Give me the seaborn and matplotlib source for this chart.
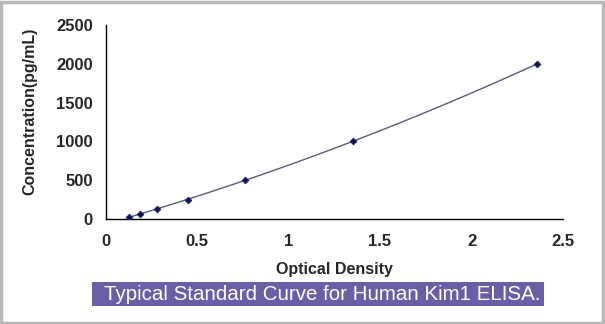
import numpy as np
import pandas as pd
import matplotlib
matplotlib.use("Agg")
import matplotlib.pyplot as plt
import seaborn as sns
from matplotlib.patches import Rectangle

# Data
optical_density = [0.13, 0.19, 0.28, 0.45, 0.76, 1.35, 2.36]
concentration = [31.25, 62.5, 125, 250, 500, 1000, 2000]
x_ticks = [0, 0.5, 1, 1.5, 2, 2.5]
y_ticks = [0, 500, 1000, 1500, 2000, 2500]
x_label = "Optical Density"
y_label = "Concentration(pg/mL)"
caption = "Typical Standard Curve for Human Kim1 ELISA."

df = pd.DataFrame({"od": optical_density, "conc": concentration})

# smooth fitted curve (polynomial fit of the standards)
coef = np.polyfit(df["od"], df["conc"], 2)
xs = np.linspace(min(optical_density), max(optical_density), 200)
fit = pd.DataFrame({"od": xs, "conc": np.polyval(coef, xs)})

sns.set_theme(style="white")
plt.rcParams["font.family"] = ["Liberation Sans", "DejaVu Sans"]

fig = plt.figure(figsize=(6.05, 3.24), dpi=100)
fig.patch.set_facecolor("white")
ax = fig.add_axes([105.5 / 605, 1 - 219 / 324, (563 - 105.5) / 605, (219 - 25) / 324])

sns.lineplot(data=fit, x="od", y="conc", ax=ax, color="#5a5a7e", linewidth=1.0)
sns.scatterplot(data=df, x="od", y="conc", ax=ax, marker="D", s=12,
                color="#14145e", edgecolor="#14145e", linewidth=0.5, zorder=5)

ax.set_xlim(0, 2.5)
ax.set_ylim(0, 2500)
ax.set_xticks(x_ticks)
ax.set_xticklabels([f"{t:g}" for t in x_ticks], fontsize=12, fontweight="bold")
ax.set_yticks(y_ticks)
ax.set_yticklabels([str(t) for t in y_ticks], fontsize=12, fontweight="bold")
ax.tick_params(axis="both", direction="in", length=5, width=1, color="black")
ax.tick_params(axis="y", pad=9)
ax.tick_params(axis="x", pad=11)
for s in ["top", "right"]:
    ax.spines[s].set_visible(False)
for s in ["left", "bottom"]:
    ax.spines[s].set_color("black")
    ax.spines[s].set_linewidth(1.0)
ax.set_xlabel(x_label, fontsize=11.5, fontweight="bold", labelpad=9)
ax.set_ylabel(y_label, fontsize=11.5, fontweight="bold")
ax.yaxis.set_label_coords(-0.148, 0.557)
ax.grid(False)

# caption box
fig.patches.append(Rectangle((92 / 605, 1 - 306 / 324), (544 - 92) / 605, 24 / 324,
                             transform=fig.transFigure, facecolor="#6a5fa6",
                             edgecolor="none", zorder=1))
fig.text(104 / 605, 1 - 295 / 324, caption, color="white", fontsize=14.8,
         ha="left", va="center", zorder=2)

# outer frame
fig.patches.append(Rectangle((1 / 605, 1 / 324), 602 / 605, 321 / 324,
                             transform=fig.transFigure, facecolor="none",
                             edgecolor="#b8b8b8", linewidth=2.5, zorder=3))

fig.savefig("out.png", dpi=100)
